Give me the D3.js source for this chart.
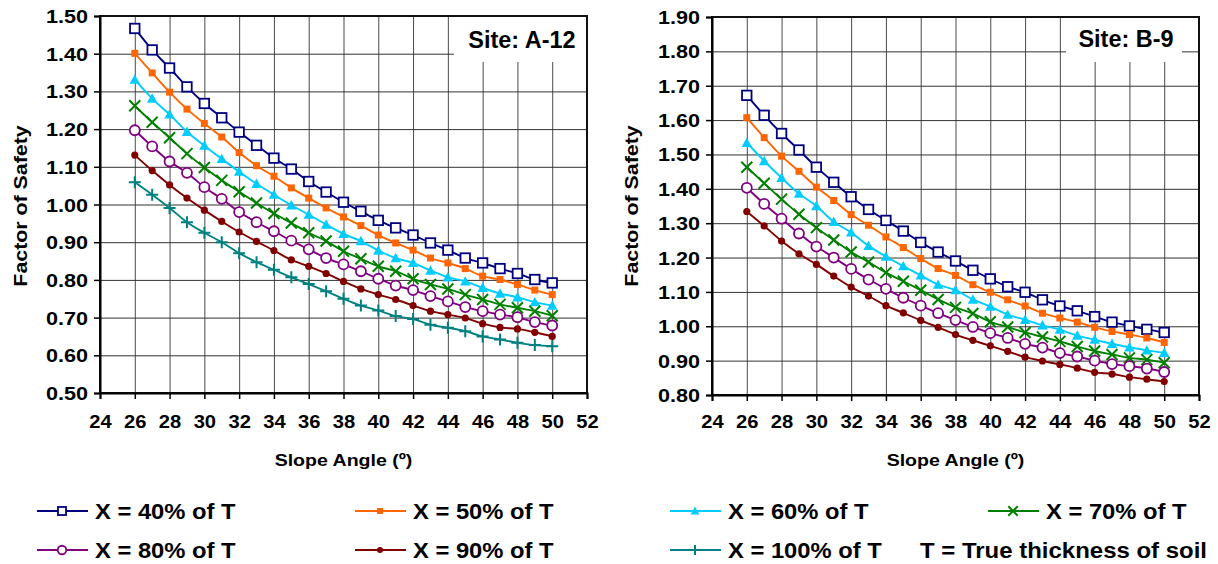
<!DOCTYPE html>
<html><head><meta charset="utf-8">
<script src="https://cdn.jsdelivr.net/npm/d3@7/dist/d3.min.js"></script>
<style>
html,body{margin:0;padding:0;background:#fff;}
svg{display:block;font-family:"Liberation Sans",Arial,sans-serif;font-weight:bold;}
</style></head>
<body><svg id="c" width="1218" height="564"></svg>
<script>
// ---- data ----
const angles = [26,27,28,29,30,31,32,33,34,35,36,37,38,39,40,41,42,43,44,45,46,47,48,49,50];
const xTickValues = [24,26,28,30,32,34,36,38,40,42,44,46,48,50,52];
const yTicksA = [0.50,0.60,0.70,0.80,0.90,1.00,1.10,1.20,1.30,1.40,1.50];
const yTicksB = [0.80,0.90,1.00,1.10,1.20,1.30,1.40,1.50,1.60,1.70,1.80,1.90];
const seriesNames = ["X = 40% of T","X = 50% of T","X = 60% of T","X = 70% of T","X = 80% of T","X = 90% of T","X = 100% of T"];
const noteText = "T = True thickness of soil";
const siteA = "Site: A-12";
const siteB = "Site: B-9";
const xTitle = "Slope Angle (\u00BA)";
const yTitle = "Factor of Safety";

// Site A-12
const fs40A = [1.467,1.410,1.362,1.312,1.268,1.230,1.192,1.157,1.123,1.094,1.061,1.033,1.006,0.982,0.958,0.938,0.919,0.898,0.879,0.858,0.845,0.830,0.817,0.801,0.792];
const fs50A = [1.401,1.349,1.298,1.253,1.215,1.179,1.138,1.103,1.075,1.044,1.017,0.991,0.967,0.944,0.919,0.898,0.879,0.858,0.845,0.830,0.810,0.801,0.788,0.773,0.761];
const fs60A = [1.331,1.281,1.239,1.193,1.156,1.121,1.087,1.055,1.026,0.998,0.973,0.947,0.922,0.903,0.878,0.858,0.845,0.825,0.807,0.796,0.779,0.764,0.754,0.741,0.732];
const fs70A = [1.262,1.218,1.177,1.135,1.098,1.064,1.034,1.004,0.976,0.951,0.925,0.903,0.876,0.856,0.836,0.823,0.803,0.788,0.776,0.761,0.748,0.735,0.726,0.717,0.705];
const fs80A = [1.197,1.154,1.114,1.084,1.046,1.015,0.980,0.953,0.929,0.904,0.881,0.858,0.841,0.823,0.803,0.785,0.773,0.757,0.743,0.728,0.717,0.708,0.701,0.688,0.679];
const fs90A = [1.131,1.090,1.052,1.017,0.985,0.955,0.927,0.902,0.878,0.853,0.836,0.817,0.796,0.776,0.761,0.748,0.732,0.717,0.708,0.699,0.684,0.674,0.670,0.661,0.650];
const fs100A = [1.059,1.026,0.991,0.953,0.925,0.900,0.871,0.847,0.827,0.807,0.789,0.770,0.750,0.732,0.719,0.704,0.696,0.681,0.673,0.664,0.650,0.642,0.633,0.627,0.624];

// Site B-9
const fs40B = [1.672,1.614,1.561,1.513,1.463,1.419,1.377,1.340,1.308,1.277,1.244,1.216,1.190,1.163,1.138,1.115,1.099,1.077,1.059,1.045,1.028,1.012,1.001,0.991,0.982];
const fs50B = [1.607,1.549,1.495,1.451,1.405,1.366,1.325,1.294,1.260,1.229,1.197,1.168,1.148,1.121,1.099,1.077,1.059,1.038,1.024,1.012,0.997,0.985,0.976,0.966,0.953];
const fs60B = [1.534,1.481,1.432,1.386,1.350,1.304,1.273,1.234,1.203,1.175,1.148,1.121,1.105,1.078,1.057,1.034,1.019,1.003,0.990,0.973,0.961,0.949,0.939,0.930,0.923];
const fs70B = [1.463,1.416,1.370,1.326,1.287,1.251,1.216,1.187,1.156,1.131,1.105,1.078,1.055,1.037,1.013,0.998,0.982,0.969,0.956,0.941,0.928,0.918,0.908,0.903,0.894];
const fs80B = [1.403,1.356,1.313,1.270,1.232,1.200,1.167,1.136,1.109,1.083,1.060,1.038,1.018,0.998,0.980,0.966,0.949,0.938,0.922,0.912,0.900,0.890,0.884,0.877,0.867];
const fs90B = [1.334,1.292,1.248,1.211,1.180,1.146,1.114,1.088,1.060,1.039,1.017,0.997,0.976,0.959,0.943,0.927,0.910,0.899,0.889,0.878,0.866,0.861,0.852,0.846,0.839];

// ---- styles ----
const styles = [
  {color:"#000080", sym:"sqOpen"},
  {color:"#FF6600", sym:"sqFill"},
  {color:"#00CCFF", sym:"tri"},
  {color:"#008000", sym:"cross"},
  {color:"#800080", sym:"circOpen"},
  {color:"#800000", sym:"circFill"},
  {color:"#008080", sym:"plus"}
];

const svg = d3.select("#c");
const FONT = '"Liberation Sans", Arial, sans-serif';

function stretchText(parent, x, y, str, size, sx, anchor, rot) {
  const g = parent.append("g").attr("transform", `translate(${x},${y}) rotate(${rot||0}) scale(${sx},1)`);
  return g.append("text").attr("font-size", size).attr("font-family", FONT).attr("font-weight", "bold")
    .attr("fill", "#000").attr("text-anchor", anchor || "start").text(str);
}

function marker(g, sym, color, cx, cy, k) {
  k = k || 1;
  const sw = 1.8;
  if (sym === "sqOpen") {
    const s = 9.5*k;
    g.append("rect").attr("x", cx - s/2).attr("y", cy - s/2).attr("width", s).attr("height", s)
      .attr("fill", "#fff").attr("stroke", color).attr("stroke-width", sw);
  } else if (sym === "sqFill") {
    const s = 7*k;
    g.append("rect").attr("x", cx - s/2).attr("y", cy - s/2).attr("width", s).attr("height", s).attr("fill", color);
  } else if (sym === "tri") {
    const s = 5.2*k;
    g.append("path").attr("d", `M${cx},${cy - s}L${cx + s},${cy + s*0.8}L${cx - s},${cy + s*0.8}Z`).attr("fill", color);
  } else if (sym === "cross") {
    const s = 5.5*k;
    g.append("path").attr("d", `M${cx - s},${cy - s}L${cx + s},${cy + s}M${cx - s},${cy + s}L${cx + s},${cy - s}`)
      .attr("stroke", color).attr("stroke-width", 2);
  } else if (sym === "circOpen") {
    g.append("circle").attr("cx", cx).attr("cy", cy).attr("r", 5*k)
      .attr("fill", "#fff").attr("stroke", color).attr("stroke-width", sw);
  } else if (sym === "circFill") {
    g.append("circle").attr("cx", cx).attr("cy", cy).attr("r", 3.6*k).attr("fill", color);
  } else if (sym === "plus") {
    const s = 6*k;
    g.append("path").attr("d", `M${cx - s},${cy}L${cx + s},${cy}M${cx},${cy - s}L${cx},${cy + s}`)
      .attr("stroke", color).attr("stroke-width", 2);
  }
}

function drawChart(cfg) {
  const x = d3.scaleLinear().domain([24, 52]).range([cfg.x0, cfg.x1]);
  const y = d3.scaleLinear().domain(cfg.yDomain).range([cfg.y1, cfg.y0]);
  const root = svg.append("g");

  // gridlines
  root.append("g").attr("transform", `translate(0,${cfg.y1})`)
    .call(d3.axisBottom(x).tickValues(xTickValues.slice(1, -1)).tickSize(-(cfg.y1 - cfg.y0)).tickFormat(""))
    .call(g => g.select(".domain").remove())
    .call(g => g.selectAll("line").attr("stroke", "#4a4a4a").attr("stroke-width", 1));
  root.append("g").attr("transform", `translate(${cfg.x0},0)`)
    .call(d3.axisLeft(y).tickValues(cfg.yTicks.slice(1, -1)).tickSize(-(cfg.x1 - cfg.x0)).tickFormat(""))
    .call(g => g.select(".domain").remove())
    .call(g => g.selectAll("line").attr("stroke", "#333").attr("stroke-width", 1));

  // site label box
  root.append("rect").attr("x", cfg.box[0]).attr("y", cfg.y0).attr("width", cfg.box[1] - cfg.box[0])
    .attr("height", cfg.box[2] - cfg.y0).attr("fill", "#fff");
  stretchText(root, (cfg.box[0] + cfg.box[1]) / 2 + 2, cfg.siteBaseline, cfg.site, 23, 1.02, "middle");

  // series
  const line = d3.line().x((d, i) => x(angles[i])).y(d => y(d)).curve(d3.curveMonotoneX);
  cfg.series.forEach((vals, si) => {
    const st = styles[si];
    const g = root.append("g");
    g.append("path").attr("d", line(vals)).attr("fill", "none").attr("stroke", st.color).attr("stroke-width", 1.9);
    vals.forEach((v, i) => marker(g, st.sym, st.color, x(angles[i]), y(v), 1));
  });

  // border
  root.append("rect").attr("x", cfg.x0).attr("y", cfg.y0).attr("width", cfg.x1 - cfg.x0).attr("height", cfg.y1 - cfg.y0)
    .attr("fill", "none").attr("stroke", "#111").attr("stroke-width", 2);

  // axes
  const xa = root.append("g").attr("transform", `translate(0,${cfg.y1})`)
    .call(d3.axisBottom(x).tickValues(xTickValues).tickSize(6).tickPadding(0).tickFormat(d3.format("d")));
  xa.select(".domain").attr("stroke", "#000").attr("stroke-width", 2);
  xa.selectAll(".tick line").attr("stroke", "#000").attr("stroke-width", 1.5);
  xa.selectAll(".tick text").remove();
  xa.selectAll(".tick").each(function(d) {
    stretchText(d3.select(this), 0, 428 - cfg.y1, d3.format("d")(d), 18, 1.12, "middle");
  });

  const ya = root.append("g").attr("transform", `translate(${cfg.x0},0)`)
    .call(d3.axisLeft(y).tickValues(cfg.yTicks).tickSize(6).tickFormat(d3.format(".2f")));
  ya.select(".domain").attr("stroke", "#000").attr("stroke-width", 2);
  ya.selectAll(".tick line").attr("stroke", "#000").attr("stroke-width", 1.5);
  ya.selectAll(".tick text").remove();
  ya.selectAll(".tick").each(function(d) {
    stretchText(d3.select(this), -12, 6.5, d3.format(".2f")(d), 18, 1.2, "end");
  });

  // titles
  stretchText(root, (cfg.x0 + cfg.x1) / 2, 466, xTitle, 17, 1.15, "middle");
  stretchText(root, cfg.yTitleX, 206, yTitle, 17.5, 1.22, "middle", -90);
}

drawChart({x0:100, x1:587, y0:16, y1:393, yDomain:[0.5, 1.5], yTicks:yTicksA,
  series:[fs40A, fs50A, fs60A, fs70A, fs80A, fs90A, fs100A], site:siteA, box:[454, 586, 62], siteBaseline:48, yTitleX:27});
drawChart({x0:712, x1:1199, y0:17, y1:395, yDomain:[0.8, 1.9], yTicks:yTicksB,
  series:[fs40B, fs50B, fs60B, fs70B, fs80B, fs90B], site:siteB, box:[1066, 1182, 62], siteBaseline:47, yTitleX:638});

// legend
const legendPos = [[37,511],[355,511],[670,511],[988,511],[37,550],[355,550],[670,550]];
const leg = svg.append("g");
seriesNames.forEach((name, i) => {
  const [lx, ly] = legendPos[i];
  const st = styles[i];
  leg.append("line").attr("x1", lx).attr("x2", lx + 51).attr("y1", ly).attr("y2", ly)
    .attr("stroke", st.color).attr("stroke-width", 1.8);
  marker(leg, st.sym, st.color, lx + 25, ly, 0.85);
  stretchText(leg, lx + 58, ly + 8, name, 22, 1.08, "start");
});
stretchText(leg, 920, 558, noteText, 22, 1.09, "start");
</script></body></html>
